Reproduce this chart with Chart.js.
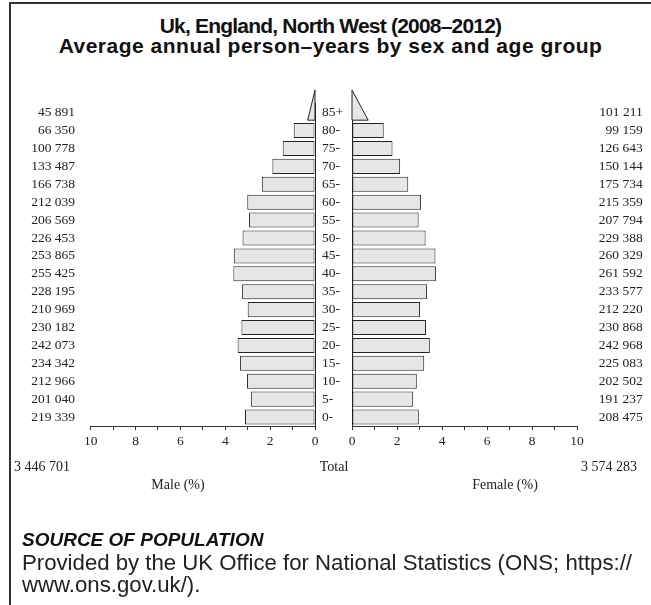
<!DOCTYPE html>
<html><head><meta charset="utf-8">
<script src="https://cdn.jsdelivr.net/npm/chart.js@4.4.0/dist/chart.umd.min.js"></script>
<style>
html,body{margin:0;padding:0;background:#fff;width:651px;height:605px;overflow:hidden;position:relative;}
#frame{position:absolute;left:9px;top:2px;width:700px;height:700px;border-left:2px solid #333;border-top:2px solid #333;}
.t{position:absolute;white-space:nowrap;color:#222;}
#title{left:10px;width:641px;top:16px;text-align:center;font:bold 21px "Liberation Sans",Arial,sans-serif;line-height:20px;color:#111;}
#tl1{letter-spacing:-0.8px;}
#tl2{letter-spacing:0.5px;}
.serif{font-family:"Liberation Serif","Times New Roman",serif;font-size:14px;line-height:16px;}
#srcH{left:22px;top:529px;font:italic bold 19px "Liberation Sans",Arial,sans-serif;line-height:22px;color:#111;}
#srcT{left:22px;top:552px;font:22.2px "Liberation Sans",Arial,sans-serif;line-height:22px;color:#222;}
canvas{position:absolute;left:0;top:0;}
</style>
</head>
<body>
<div id="frame"></div>
<div id="title" class="t"><span id="tl1">Uk, England, North West (2008–2012)</span><br><span id="tl2">Average annual person–years by sex and age group</span></div>
<canvas id="male" width="651" height="605"></canvas>
<canvas id="female" width="651" height="605"></canvas>
<div class="t serif" id="mTot" style="left:14px;top:459px;"></div>
<div class="t serif" style="left:294px;width:80px;text-align:center;top:459px;">Total</div>
<div class="t serif" id="fTot" style="right:14px;top:459px;"></div>
<div class="t serif" style="left:128px;width:100px;text-align:center;top:477px;">Male (%)</div>
<div class="t serif" style="left:455px;width:100px;text-align:center;top:477px;">Female (%)</div>
<div class="t" id="srcH">SOURCE OF POPULATION</div>
<div class="t" id="srcT">Provided by the UK Office for National Statistics (ONS; https://<br>www.ons.gov.uk/).</div>
<script>
// Age groups, top to bottom as drawn
const ageGroups = ['85+','80-','75-','70-','65-','60-','55-','50-','45-','40-','35-','30-','25-','20-','15-','10-','5-','0-'];
// Average annual person-years
const maleCounts = [45891,66350,100778,133487,166738,212039,206569,226453,253865,255425,228195,210969,230182,242073,234342,212966,201040,219339];
const femaleCounts = [101211,99159,126643,150144,175734,215359,207794,229388,260329,261592,233577,212220,230868,242968,225083,202502,191237,208475];
// Bar lengths (% of total population)
const malePct = [0.65,0.95,1.44,1.90,2.37,3.02,2.94,3.23,3.62,3.64,3.25,3.00,3.28,3.45,3.34,3.03,2.86,3.12];
const femalePct = [1.44,1.41,1.80,2.14,2.50,3.07,2.96,3.27,3.71,3.73,3.33,3.02,3.29,3.46,3.21,2.88,2.72,2.97];
const maleTotal = 3446701;
const femaleTotal = 3574283;
const axisMax = 10;

const fmt = n => String(n).replace(/\B(?=(\d{3})+(?!\d))/g, ' ');
document.getElementById('mTot').textContent = fmt(maleTotal);
document.getElementById('fTot').textContent = fmt(femaleTotal);

const serif = {family:'"Liberation Serif","Times New Roman",serif', size:13.5};
const INK = '#222', FILL = '#e6e6e6';

const trianglePlugin = {
  id:'openTriangle',
  afterDatasetsDraw(chart){
    const ctx = chart.ctx;
    const bar = chart.getDatasetMeta(0).data[0];
    const xs = chart.scales.x;
    const v = chart.data.datasets[0].data[0];
    const x0 = xs.getPixelForValue(0);
    const x1 = xs.getPixelForValue(v/2);
    const h = bar.height;
    const yb = bar.y + h/2;
    const yt = yb - 2*h;
    ctx.save();
    ctx.beginPath();
    ctx.moveTo(x0, yb); ctx.lineTo(x1, yb); ctx.lineTo(x0, yt); ctx.closePath();
    ctx.fillStyle = FILL; ctx.fill();
    ctx.lineWidth = 1; ctx.strokeStyle = INK; ctx.stroke();
    ctx.restore();
  }
};

function makeChart(id, values, counts, isMale){
  const ds = {
    data: values,
    backgroundColor: c => c.dataIndex === 0 ? 'rgba(0,0,0,0)' : FILL,
    borderColor: c => c.dataIndex === 0 ? 'rgba(0,0,0,0)' : INK,
    borderWidth: 1,
    borderSkipped: false,
    barPercentage: 0.84,
    categoryPercentage: 1
  };
  const xScale = {
    type:'linear', min:0, max:axisMax, reverse:isMale, position:'bottom',
    ticks:{stepSize:1, autoSkip:false, maxRotation:0, color:INK, font:serif, padding:3,
      callback: v => v % 2 === 0 ? String(v) : ''},
    grid:{display:true, drawOnChartArea:false, drawTicks:true, tickLength:4, color:'#333'},
    border:{display:true, color:'#333', width:1},
    afterFit: s => { s.height = 30; }
  };
  const countLabels = counts.map(fmt);
  let scales, padding;
  if (isMale){
    scales = {
      x: xScale,
      y: {position:'right', offset:true,
        ticks:{color:INK, font:serif, crossAlign:'near', padding:7, autoSkip:false},
        grid:{display:false, drawTicks:false}, border:{display:true, color:INK, width:1},
        afterFit: s => { s.width = 40; }},
      y2: {type:'category', labels:countLabels, position:'left', offset:true,
        ticks:{color:INK, font:serif, crossAlign:'near', padding:15.7, autoSkip:false},
        grid:{display:false, drawTicks:false}, border:{display:false},
        afterFit: s => { s.width = 90.7; }}
    };
    padding = {left:0, right:296, top:103.7, bottom:149};
  } else {
    scales = {
      x: xScale,
      y: {position:'left', offset:true,
        ticks:{display:false, autoSkip:false},
        grid:{display:false, drawTicks:false}, border:{display:true, color:INK, width:1},
        afterFit: s => { s.width = 0; }},
      y2: {type:'category', labels:countLabels, position:'right', offset:true,
        ticks:{color:INK, font:serif, crossAlign:'far', padding:0, autoSkip:false},
        grid:{display:false, drawTicks:false}, border:{display:false},
        afterFit: s => { s.width = 65.7; }}
    };
    padding = {left:352, right:8.3, top:103.7, bottom:149};
  }
  return new Chart(document.getElementById(id), {
    type:'bar',
    data:{labels:ageGroups, datasets:[ds]},
    options:{
      indexAxis:'y', responsive:false, animation:false, devicePixelRatio:1,
      layout:{padding},
      plugins:{legend:{display:false}, tooltip:{enabled:false}, title:{display:false}},
      scales
    },
    plugins:[trianglePlugin]
  });
}
makeChart('male', malePct, maleCounts, true);
makeChart('female', femalePct, femaleCounts, false);
</script>
</body></html>
